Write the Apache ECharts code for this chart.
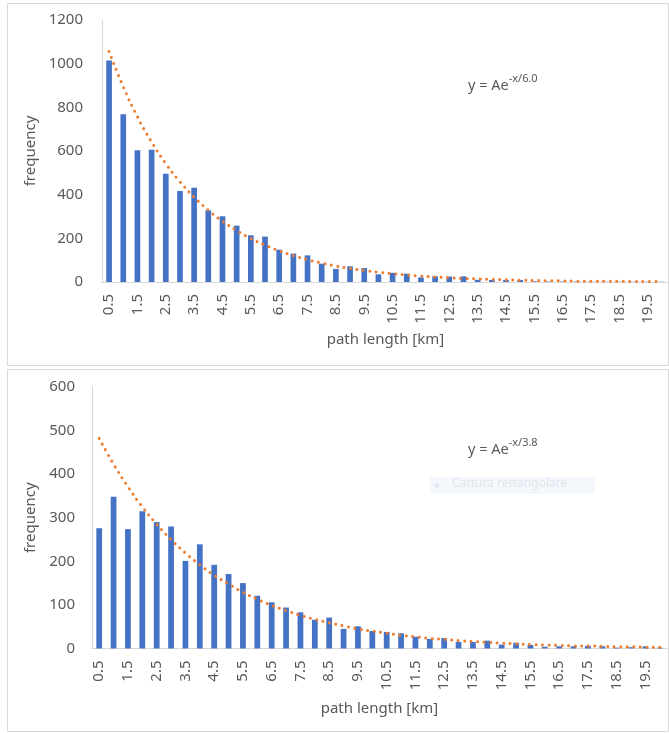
<!DOCTYPE html>
<html><head><meta charset="utf-8">
<script src="https://cdn.jsdelivr.net/npm/echarts@6/dist/echarts.min.js"></script>
<style>html,body{margin:0;padding:0;background:#fff}#c{width:669px;height:733px}</style>
</head><body><div id="c"></div>
<script>
// path length classes [km]
const categories = ['0.5','1.0','1.5','2.0','2.5','3.0','3.5','4.0','4.5','5.0',
  '5.5','6.0','6.5','7.0','7.5','8.0','8.5','9.0','9.5','10.0',
  '10.5','11.0','11.5','12.0','12.5','13.0','13.5','14.0','14.5','15.0',
  '15.5','16.0','16.5','17.0','17.5','18.0','18.5','19.0','19.5','20.0'];

// upper panel
const topCounts = [1015,768,604,606,496,417,432,328,301,258,
  214,208,148,130,122,84,60,72,64,35,
  42,38,21,26,25,26,10,9,9,9,
  3,2,2,2,1,1,1,1,1,1];
const topTrend = [1056,894,757,641,542,459,389,329,278,236,
  199,169,143,121,102,87,73,62,53,45,
  38,32,27,23,19,16,14,12,10,8,
  7,6,5,4,4,3,3,2,2,2];
const topYTicks = [0,200,400,600,800,1000,1200];
const topEquation = ['y = Ae', '-x/6.0'];

// lower panel
const bottomCounts = [276,348,274,315,290,280,201,239,192,171,
  150,121,106,94,83,66,71,45,51,40,
  38,35,27,22,24,15,15,18,9,13,
  8,4,5,5,6,5,2,3,5,2];
const bottomTrend = [482,423,371,325,285,250,219,192,168,148,
  129,113,99,87,76,67,59,52,45,40,
  35,30,27,23,21,18,16,14,12,11,
  9,8,7,6,6,5,4,4,3,3];
const bottomYTicks = [0,100,200,300,400,500,600];
const bottomEquation = ['y = Ae', '-x/3.8'];

const xName = 'path length [km]';
const yName = 'frequency';
const ghostLegend = 'Cattura rettangolare';

const FONT = 'Noto Sans';
const TXT = '#595959';
const AX = '#d9d9d9';
const BLUE = '#4472C4';
const ORANGE = '#ED7D31';

function xAxis(gridIndex, gap) {
  return {
    type: 'category', gridIndex, data: categories,
    boundaryGap: true,
    axisLine: {show: true, lineStyle: {color: AX, width: 1}},
    axisTick: {show: false},
    axisLabel: {interval: 1, rotate: 90, margin: 12, color: TXT, fontFamily: FONT, fontSize: 15},
    name: xName, nameLocation: 'middle', nameGap: gap,
    nameTextStyle: {color: TXT, fontFamily: FONT, fontSize: 15}
  };
}
function yAxis(gridIndex, ticks, gap, margin) {
  return {
    type: 'value', gridIndex,
    min: ticks[0], max: ticks[ticks.length - 1], interval: ticks[1] - ticks[0],
    axisLine: {show: true, lineStyle: {color: AX, width: 1}},
    axisTick: {show: false},
    splitLine: {show: false},
    axisLabel: {margin, color: TXT, fontFamily: FONT, fontSize: 15, formatter: v => String(v)},
    name: yName, nameLocation: 'middle', nameGap: gap, nameRotate: 90,
    nameTextStyle: {color: TXT, fontFamily: FONT, fontSize: 15}
  };
}
function bars(i, data) {
  return {type: 'bar', xAxisIndex: i, yAxisIndex: i, data, barWidth: '40%',
    itemStyle: {color: BLUE}, silent: true, animation: false};
}
function trend(i, data) {
  return {type: 'line', xAxisIndex: i, yAxisIndex: i, data, symbol: 'none', smooth: true,
    lineStyle: {color: ORANGE, width: 3, type: [0.01, 6.5], cap: 'round', join: 'round'}, silent: true, animation: false};
}
function equation(x, y, parts) {
  return {type: 'text', left: x, top: y, silent: true,
    style: {text: '{b|' + parts[0] + '}{s|' + parts[1] + '}', fontFamily: FONT,
      rich: {
        b: {fontFamily: FONT, fontSize: 14.5, lineHeight: 20, verticalAlign: 'bottom', fill: TXT, color: TXT},
        s: {fontFamily: FONT, fontSize: 11, lineHeight: 9, verticalAlign: 'top', fill: TXT, color: TXT}
      }}};
}

const chart = echarts.init(document.getElementById('c'), null, {renderer: 'canvas'});
chart.setOption({
  backgroundColor: '#ffffff',
  animation: false,
  grid: [
    {left: 102, width: 568, top: 20, height: 262},
    {left: 92, width: 575, top: 387, height: 261.5}
  ],
  xAxis: [xAxis(0, 50), xAxis(1, 53)],
  yAxis: [yAxis(0, topYTicks, 58, 19), yAxis(1, bottomYTicks, 49, 17)],
  series: [bars(0, topCounts), trend(0, topTrend), bars(1, bottomCounts), trend(1, bottomTrend)],
  graphic: [
    {type: 'rect', shape: {x: 7.5, y: 3.5, width: 661, height: 362}, style: {fill: 'none', stroke: AX, lineWidth: 1}, silent: true, z: -1},
    {type: 'rect', shape: {x: 7.5, y: 369.5, width: 661, height: 362}, style: {fill: 'none', stroke: AX, lineWidth: 1}, silent: true, z: -1},
    equation(468, 73, topEquation),
    equation(468, 437, bottomEquation),
    {type: 'rect', shape: {x: 430, y: 477, width: 165, height: 17}, style: {fill: '#f4f8fd'}, silent: true},
    {type: 'circle', shape: {cx: 437, cy: 485.5, r: 2.5}, style: {fill: '#e2e9f4'}, silent: true},
    {type: 'text', left: 452, top: 478, silent: true,
      style: {text: ghostLegend, fontFamily: FONT, fontSize: 12, fill: '#e0e5ec'}}
  ]
});
</script></body></html>
